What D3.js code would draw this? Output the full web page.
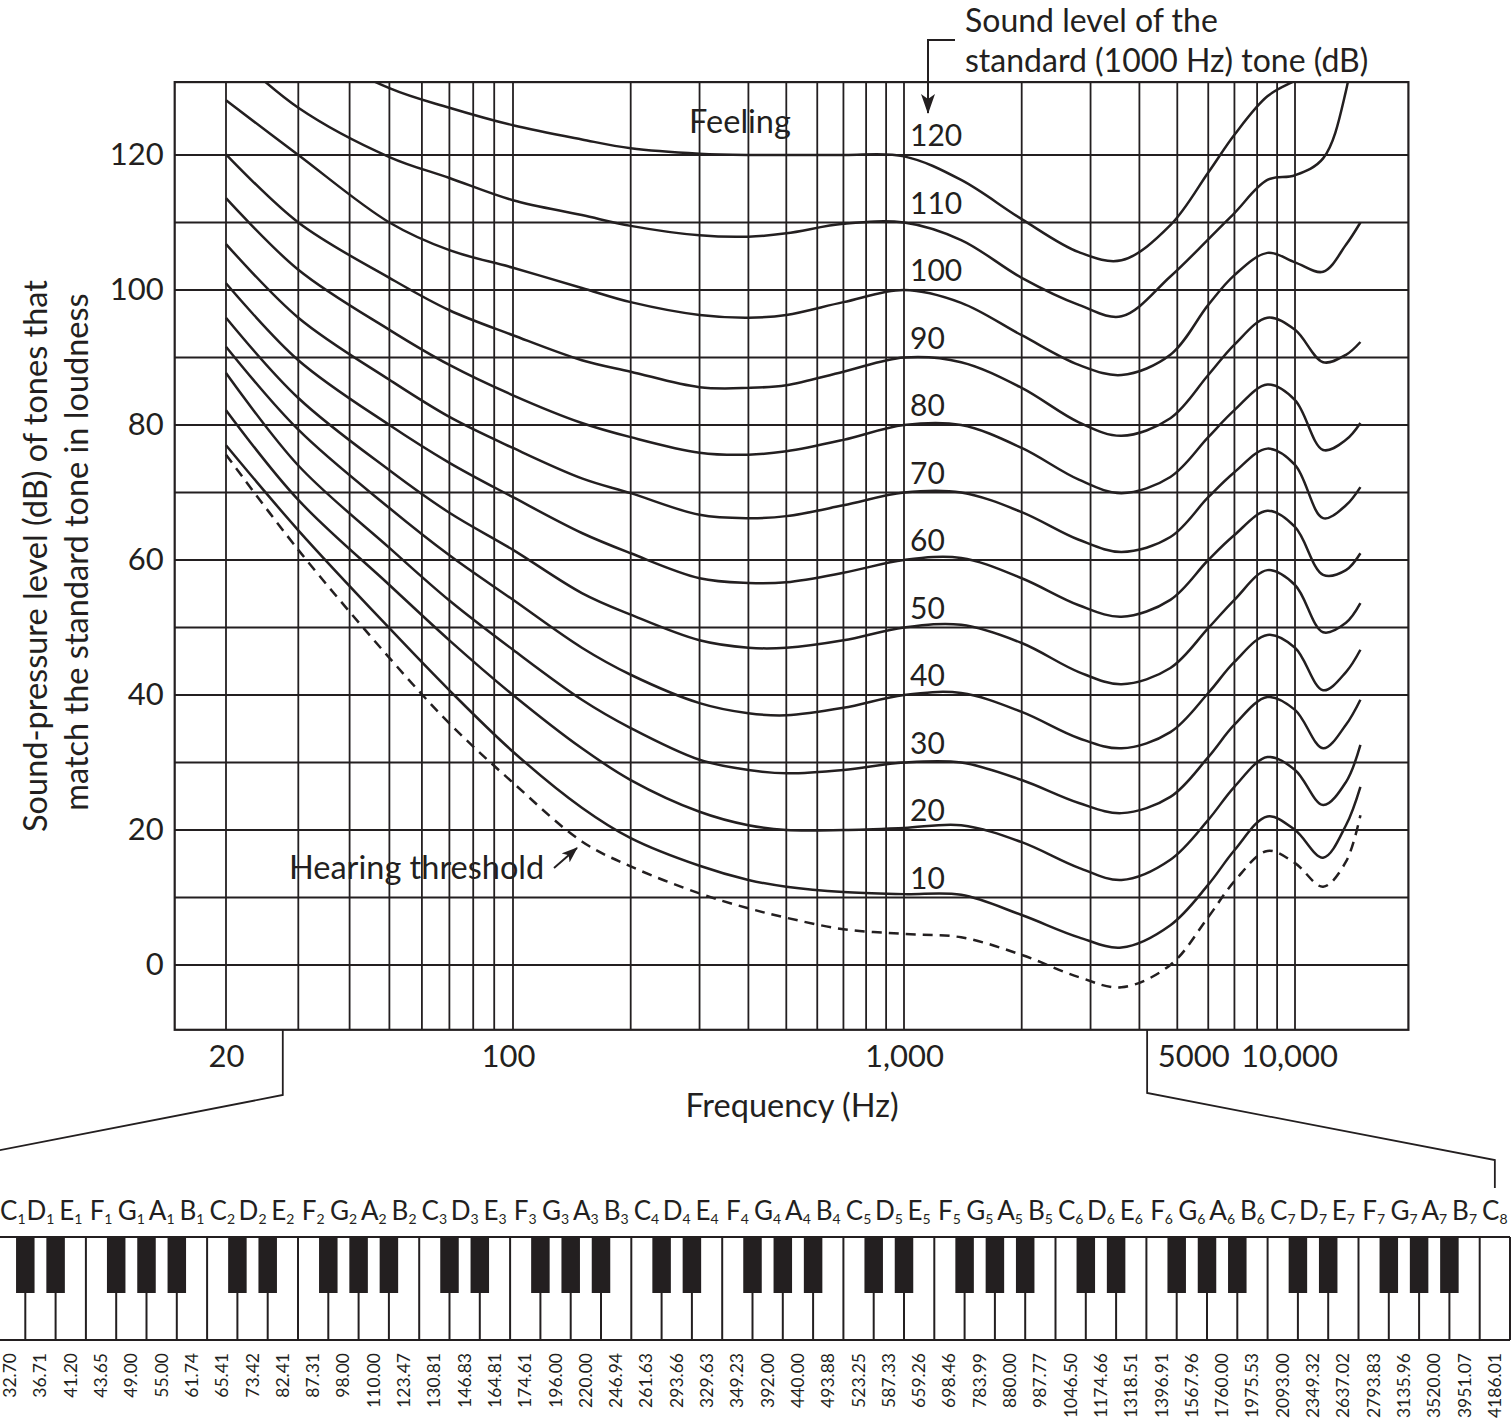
<!DOCTYPE html>
<html>
<head>
<meta charset="utf-8">
<script src="https://d3js.org/d3.v7.min.js"></script>
<style>
body { margin: 0; background: #fff; }
svg { display: block; font-family: Lato, "Open Sans", sans-serif; }
</style>
</head>
<body>
<script>
var freqs = [20, 30, 50, 70, 100, 150, 200, 300, 400, 500, 700, 1000, 1400, 2000, 2800, 3600, 4800, 6000, 7000, 8500, 10000, 11800, 13500, 14700];

// sound-pressure level (dB) of each equal-loudness contour at those frequencies
var threshold = [75.6, 61.5, 45.5, 35.8, 27.0, 18.3, 14.6, 10.6, 8.4, 7.0, 5.3, 4.6, 4.1, 1.5, -1.8, -3.3, 0.0, 7.1, 12.4, 16.9, 15.1, 11.6, 15.3, 22.2];
var phon10  = [77.0, 64.4, 49.9, 40.7, 31.6, 23.3, 18.8, 14.7, 12.6, 11.6, 10.8, 10.5, 10.4, 7.4, 4.1, 2.6, 5.9, 11.9, 17.0, 22.0, 20.0, 15.9, 20.7, 26.4];
var phon20  = [82.2, 68.9, 56.3, 48.1, 40.0, 32.1, 27.4, 22.7, 20.7, 20.0, 20.0, 20.3, 20.7, 18.2, 14.4, 12.6, 15.6, 21.5, 26.4, 30.8, 28.9, 23.7, 27.1, 32.6];
var phon30  = [87.7, 74.0, 61.8, 54.0, 46.7, 39.3, 35.1, 30.4, 28.9, 28.4, 28.9, 30.0, 30.0, 27.4, 24.0, 22.5, 24.9, 30.8, 35.6, 39.7, 37.8, 32.1, 35.6, 39.3];
var phon40  = [91.6, 79.3, 67.7, 60.7, 54.1, 47.0, 43.0, 38.8, 37.3, 37.0, 38.1, 40.0, 40.3, 37.5, 33.6, 32.1, 34.5, 40.3, 44.9, 48.9, 47.0, 40.7, 43.4, 46.7];
var phon50  = [95.9, 84.0, 73.3, 67.0, 61.5, 55.1, 51.9, 48.1, 47.0, 47.0, 48.1, 50.0, 50.4, 47.7, 43.4, 41.6, 44.0, 49.9, 54.1, 58.5, 56.3, 49.3, 50.7, 53.6];
var phon60  = [101.0, 89.6, 80.0, 74.4, 69.3, 64.0, 61.0, 57.3, 56.6, 56.7, 58.1, 60.0, 60.3, 57.3, 53.3, 51.6, 54.1, 60.0, 63.7, 67.3, 64.9, 57.8, 58.5, 61.0];
var phon70  = [106.8, 95.9, 86.7, 81.2, 76.6, 72.1, 69.9, 66.7, 66.2, 66.5, 68.1, 70.0, 70.0, 67.1, 63.0, 61.2, 63.4, 69.3, 73.0, 76.5, 74.1, 66.2, 68.1, 70.8];
var phon80  = [113.6, 103.0, 94.1, 88.9, 84.4, 80.3, 78.2, 75.9, 75.6, 76.1, 77.8, 80.0, 80.0, 76.6, 71.9, 69.9, 72.3, 78.2, 82.2, 86.0, 83.7, 76.3, 77.8, 80.3];
var phon90  = [120.1, 110.0, 101.8, 97.0, 93.3, 89.6, 87.9, 85.6, 85.5, 85.9, 87.9, 90.0, 89.3, 85.5, 80.4, 78.4, 81.0, 87.4, 91.9, 95.9, 94.1, 89.3, 90.4, 92.3];
var phon100 = [128.1, 120.0, 110.0, 105.9, 103.3, 100.3, 98.2, 96.3, 95.9, 96.3, 98.2, 100.0, 98.1, 93.3, 88.9, 87.4, 90.4, 97.8, 102.2, 105.5, 104.1, 102.7, 106.7, 110.0];
var phon110 = [136.0, 127.0, 119.7, 116.6, 113.3, 111.1, 109.5, 108.1, 107.9, 108.4, 109.8, 110.0, 107.4, 101.8, 97.8, 96.1, 102.0, 107.5, 111.4, 116.3, 117.0, 119.5, 129.5, 145.0];
var phon120 = [145.0, 137.0, 129.9, 127.0, 124.4, 122.3, 121.0, 120.2, 120.0, 120.0, 120.0, 119.8, 116.3, 110.5, 105.6, 104.4, 109.6, 117.4, 123.0, 128.7, 131.0, 133.0, 135.0, 136.0];

var levels = [10, 20, 30, 40, 50, 60, 70, 80, 90, 100, 110, 120];
var contours = [phon10, phon20, phon30, phon40, phon50, phon60, phon70, phon80, phon90, phon100, phon110, phon120];

// axes and grid
var gridFreqs = [20, 30, 40, 50, 60, 70, 80, 90, 100, 200, 300, 400, 500, 600, 700, 800, 900, 1000,
                 2000, 3000, 4000, 5000, 6000, 7000, 8000, 9000, 10000];
var gridDb = [0, 10, 20, 30, 40, 50, 60, 70, 80, 90, 100, 110, 120];
var yTickValues = [0, 20, 40, 60, 80, 100, 120];
var xTickFreqs = [20, 100, 1000, 5000, 10000];
var xTickText = ["20", "100", "1,000", "5000", "10,000"];

// piano keyboard, white keys C1 .. C8
var keyLetters = ["C", "D", "E", "F", "G", "A", "B"];
var keyFreqs = ["32.70", "36.71", "41.20", "43.65", "49.00", "55.00", "61.74",
                "65.41", "73.42", "82.41", "87.31", "98.00", "110.00", "123.47",
                "130.81", "146.83", "164.81", "174.61", "196.00", "220.00", "246.94",
                "261.63", "293.66", "329.63", "349.23", "392.00", "440.00", "493.88",
                "523.25", "587.33", "659.26", "698.46", "783.99", "880.00", "987.77",
                "1046.50", "1174.66", "1318.51", "1396.91", "1567.96", "1760.00", "1975.53",
                "2093.00", "2349.32", "2637.02", "2793.83", "3135.96", "3520.00", "3951.07",
                "4186.01"];
var pianoLow = 27.5, pianoHigh = 4186.01;

var ink = "#231f20";
var W = 1512, H = 1426;

var x = d3.scaleLog()
    .domain([20, 100, 1000, 10000])
    .range([226, 513, 904, 1295]);
var y = d3.scaleLinear()
    .domain([0, 120])
    .range([965, 155]);

var fMin = 15, fMax = 19500, dbMin = -9.6, dbMax = 130.8;
var x0 = x(fMin), x1 = x(fMax), yTop = y(dbMax), yBot = y(dbMin);

var svg = d3.select("body").append("svg")
    .attr("width", W)
    .attr("height", H);

var defs = svg.append("defs");
defs.append("clipPath").attr("id", "plot")
  .append("rect")
    .attr("x", x0).attr("y", yTop)
    .attr("width", x1 - x0).attr("height", yBot - yTop);
defs.append("marker")
    .attr("id", "arrow")
    .attr("viewBox", "0 0 20 14")
    .attr("refX", 19).attr("refY", 7)
    .attr("markerWidth", 20).attr("markerHeight", 14)
    .attr("markerUnits", "userSpaceOnUse")
    .attr("orient", "auto")
  .append("path")
    .attr("d", "M0,0 L20,7 L0,14 L5,7 Z")
    .attr("fill", ink);
defs.append("marker")
    .attr("id", "arrowSmall")
    .attr("viewBox", "0 0 16 12")
    .attr("refX", 15).attr("refY", 6)
    .attr("markerWidth", 16).attr("markerHeight", 12)
    .attr("markerUnits", "userSpaceOnUse")
    .attr("orient", "auto")
  .append("path")
    .attr("d", "M0,0 L16,6 L0,12 L4,6 Z")
    .attr("fill", ink);

// grid
var grid = svg.append("g").attr("stroke", ink).attr("stroke-width", 1.8);
grid.selectAll(".vg").data(gridFreqs).enter().append("line")
    .attr("class", "vg")
    .attr("x1", d => x(d)).attr("x2", d => x(d))
    .attr("y1", yTop).attr("y2", yBot);
grid.selectAll(".hg").data(gridDb).enter().append("line")
    .attr("class", "hg")
    .attr("x1", x0).attr("x2", x1)
    .attr("y1", d => y(d)).attr("y2", d => y(d));

svg.append("rect")
    .attr("x", x0).attr("y", yTop)
    .attr("width", x1 - x0).attr("height", yBot - yTop)
    .attr("fill", "none").attr("stroke", ink).attr("stroke-width", 2.2);

// contours
var line = d3.line()
    .x((d, i) => x(freqs[i]))
    .y(d => y(d))
    .curve(d3.curveCatmullRom.alpha(0.5));

var curves = svg.append("g").attr("clip-path", "url(#plot)")
    .attr("fill", "none").attr("stroke", ink).attr("stroke-width", 2.5);
curves.selectAll(".contour").data(contours).enter().append("path")
    .attr("class", "contour")
    .attr("d", line);
curves.append("path")
    .attr("d", line(threshold))
    .attr("stroke-dasharray", "10,7");

// level labels next to 1000 Hz
svg.append("g").selectAll("text").data(levels).enter().append("text")
    .attr("x", x(1000) + 6)
    .attr("y", d => y(d) - 9)
    .attr("font-size", 30)
    .attr("fill", ink)
    .text(d => d);

// axes
var yAxis = svg.append("g")
    .attr("transform", "translate(" + x0 + ",0)")
    .call(d3.axisLeft(y).tickValues(yTickValues).tickSize(0).tickPadding(11));
yAxis.select(".domain").remove();
yAxis.selectAll("text").attr("font-size", 31).attr("fill", ink).attr("font-family", "Lato");

var xAxis = svg.append("g")
    .attr("transform", "translate(0," + yBot + ")")
    .call(d3.axisBottom(x).tickValues(xTickFreqs).tickFormat((d, i) => xTickText[i])
          .tickSize(0).tickPadding(15));
xAxis.select(".domain").remove();
xAxis.selectAll("text").attr("font-size", 31).attr("fill", ink).attr("font-family", "Lato")
    .attr("dx", d => d === 5000 ? 16 : (d === 100 ? -5 : (d === 10000 ? -6 : 0)));

svg.append("text")
    .attr("x", 792).attr("y", 1117)
    .attr("text-anchor", "middle")
    .attr("font-size", 32.5).attr("fill", ink)
    .text("Frequency (Hz)");

svg.append("text")
    .attr("transform", "translate(47,556) rotate(-90)")
    .attr("text-anchor", "middle")
    .attr("font-size", 32.5).attr("fill", ink)
    .text("Sound-pressure level (dB) of tones that");
svg.append("text")
    .attr("transform", "translate(88,552) rotate(-90)")
    .attr("text-anchor", "middle")
    .attr("font-size", 32.5).attr("fill", ink)
    .text("match the standard tone in loudness");

// annotations
svg.append("text")
    .attr("x", 740).attr("y", 133)
    .attr("text-anchor", "middle")
    .attr("font-size", 32.5).attr("fill", ink)
    .text("Feeling");

svg.append("text").attr("x", 965).attr("y", 32)
    .attr("font-size", 32).attr("fill", ink)
    .text("Sound level of the");
svg.append("text").attr("x", 965).attr("y", 72)
    .attr("font-size", 32).attr("fill", ink)
    .text("standard (1000 Hz) tone (dB)");
svg.append("path")
    .attr("d", "M955,40 H" + (x(1000) + 24) + " V" + (y(120) - 42))
    .attr("fill", "none").attr("stroke", ink).attr("stroke-width", 2)
    .attr("marker-end", "url(#arrow)");

svg.append("text").attr("x", 289).attr("y", 879)
    .attr("font-size", 32.5).attr("fill", ink)
    .text("Hearing threshold");
svg.append("line")
    .attr("x1", 554).attr("y1", 868).attr("x2", 577).attr("y2", 848)
    .attr("stroke", ink).attr("stroke-width", 2)
    .attr("marker-end", "url(#arrowSmall)");

// keyboard
var keyX = d3.scaleLinear().domain([0, keyFreqs.length]).range([-5, 1510]);
var kTop = 1237, kBot = 1340, bBot = 1293, bW = 18.5;
var keys = svg.append("g");

// brackets linking the piano range to the frequency axis
var brk = svg.append("g").attr("fill", "none").attr("stroke", ink).attr("stroke-width", 1.8);
brk.append("path")
    .attr("d", "M" + x(pianoLow) + "," + yBot + " V1095 L" + keyX(-1.5) + ",1160");
brk.append("path")
    .attr("d", "M" + x(pianoHigh) + "," + yBot + " V1093 L" + keyX(keyFreqs.length - 0.5) + ",1160 V1188");

keys.selectAll(".wk").data(d3.range(1, keyFreqs.length + 1)).enter().append("line")
    .attr("class", "wk")
    .attr("x1", d => keyX(d)).attr("x2", d => keyX(d))
    .attr("y1", kTop).attr("y2", kBot)
    .attr("stroke", ink).attr("stroke-width", 2);
keys.append("line").attr("x1", keyX(0)).attr("x2", keyX(keyFreqs.length))
    .attr("y1", kTop).attr("y2", kTop).attr("stroke", ink).attr("stroke-width", 2.2);
keys.append("line").attr("x1", keyX(0)).attr("x2", keyX(keyFreqs.length))
    .attr("y1", kBot).attr("y2", kBot).attr("stroke", ink).attr("stroke-width", 2.2);

var blackIdx = keyFreqs.map((f, i) => i)
    .filter(i => i < keyFreqs.length - 1 && [0, 1, 3, 4, 5].indexOf(i % 7) >= 0);
keys.selectAll(".bk").data(blackIdx).enter().append("rect")
    .attr("class", "bk")
    .attr("x", d => keyX(d + 1) - bW / 2)
    .attr("y", kTop)
    .attr("width", bW)
    .attr("height", bBot - kTop)
    .attr("fill", ink);

// note names; the first one sits against the left edge
var names = keys.selectAll(".kn").data(keyFreqs).enter().append("text")
    .attr("class", "kn")
    .attr("x", (d, i) => i === 0 ? 0 : keyX(i + 0.5))
    .attr("y", 1220)
    .attr("text-anchor", (d, i) => i === 0 ? "start" : "middle")
    .attr("font-size", 26).attr("fill", ink);
names.append("tspan").text((d, i) => keyLetters[i % 7]);
names.append("tspan")
    .attr("font-size", 14).attr("dy", 4)
    .text((d, i) => 1 + Math.floor(i / 7));

keys.selectAll(".kf").data(keyFreqs).enter().append("text")
    .attr("class", "kf")
    .attr("transform", (d, i) => "translate(" + (keyX(i + 0.5) + 6) + ",1353) rotate(-90)")
    .attr("text-anchor", "end")
    .attr("font-size", 17.5).attr("fill", ink)
    .text(d => d);
</script>
</body>
</html>
